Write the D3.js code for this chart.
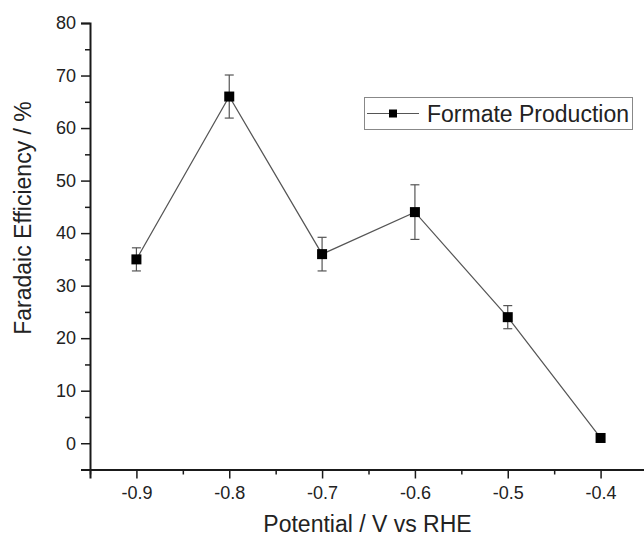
<!DOCTYPE html>
<html>
<head>
<meta charset="utf-8">
<script src="https://cdn.jsdelivr.net/npm/d3@7"></script>
<style>
  html, body { margin: 0; padding: 0; background: #fff; }
  svg { display: block; font-family: "Liberation Sans", Arial, sans-serif; }
</style>
</head>
<body>
<svg id="chart" width="644" height="537"></svg>
<script>
// ---- data ----
const potentials = [-0.9, -0.8, -0.7, -0.6, -0.5, -0.4];
const efficiency = [35, 66, 36, 44, 24, 1];
const errors = [2.2, 4.1, 3.2, 5.2, 2.2, 0];
const xMajorTicks = [-0.9, -0.8, -0.7, -0.6, -0.5, -0.4];
const xMinorTicks = [-0.95, -0.85, -0.75, -0.65, -0.55, -0.45, -0.35];
const yMajorTicks = [0, 10, 20, 30, 40, 50, 60, 70, 80];
const yMinorTicks = [-5, 5, 15, 25, 35, 45, 55, 65, 75];
const seriesName = "Formate Production";
const xTitle = "Potential / V vs RHE";
const yTitle = "Faradaic Efficiency / %";

const svg = d3.select("#chart");
const x = d3.scaleLinear().domain([-0.95, -0.35]).range([90, 647]);
const y = d3.scaleLinear().domain([-5, 80]).range([469.5, 23]);

const axisColor = "#1a1a1a";
const lineColor = "#555";

// X axis
const gx = svg.append("g").attr("transform", `translate(0,${y(-5)})`);
gx.call(d3.axisBottom(x).tickValues(xMajorTicks).tickSize(9).tickPadding(8)
  .tickFormat(d => d.toFixed(1)));
gx.append("g").call(d3.axisBottom(x).tickValues(xMinorTicks).tickSize(5).tickFormat(""))
  .call(g => g.select(".domain").remove());
gx.selectAll(".domain").attr("stroke", axisColor).attr("stroke-width", 2);
gx.selectAll(".tick line").attr("stroke", axisColor).attr("stroke-width", 1.5);
gx.selectAll(".tick text").attr("fill", "#222").style("font-size", "18px");

// Y axis
const gy = svg.append("g").attr("transform", `translate(${x(-0.95)},0)`);
gy.call(d3.axisLeft(y).tickValues(yMajorTicks).tickSize(9).tickPadding(5));
gy.append("g").call(d3.axisLeft(y).tickValues(yMinorTicks).tickSize(5).tickFormat(""))
  .call(g => g.select(".domain").remove());
gy.selectAll(".domain").attr("stroke", axisColor).attr("stroke-width", 2);
gy.selectAll(".tick line").attr("stroke", axisColor).attr("stroke-width", 1.5);
gy.selectAll(".tick text").attr("fill", "#222").style("font-size", "18px");

// Titles
svg.append("text").attr("x", (263 + 472) / 2).attr("y", 532)
  .attr("text-anchor", "middle").style("font-size", "23px").attr("fill", "#222")
  .text(xTitle);
svg.append("text").attr("transform", `translate(31,218) rotate(-90)`)
  .attr("text-anchor", "middle").style("font-size", "23px").attr("fill", "#222")
  .text(yTitle);

const pts = potentials.map((p, i) => ({ p, v: efficiency[i], e: errors[i] }));

// Line
svg.append("path").datum(pts)
  .attr("fill", "none").attr("stroke", lineColor).attr("stroke-width", 1.2)
  .attr("d", d3.line().x(d => x(d.p)).y(d => y(d.v)));

// Error bars
const eb = svg.append("g").attr("stroke", lineColor).attr("stroke-width", 1.2)
  .selectAll("g").data(pts.filter(d => d.e > 0)).join("g");
eb.append("line").attr("x1", d => x(d.p)).attr("x2", d => x(d.p))
  .attr("y1", d => y(d.v + d.e)).attr("y2", d => y(d.v - d.e));
eb.append("line").attr("x1", d => x(d.p) - 4.5).attr("x2", d => x(d.p) + 4.5)
  .attr("y1", d => y(d.v + d.e)).attr("y2", d => y(d.v + d.e));
eb.append("line").attr("x1", d => x(d.p) - 4.5).attr("x2", d => x(d.p) + 4.5)
  .attr("y1", d => y(d.v - d.e)).attr("y2", d => y(d.v - d.e));

// Markers
const ms = 10;
svg.append("g").selectAll("rect").data(pts).join("rect")
  .attr("x", d => x(d.p) - ms / 2).attr("y", d => y(d.v) - ms / 2)
  .attr("width", ms).attr("height", ms).attr("fill", "#000");

// Legend
const lg = svg.append("g");
lg.append("rect").attr("x", 364.5).attr("y", 97.5).attr("width", 268).attr("height", 32)
  .attr("fill", "#fff").attr("stroke", "#888").attr("stroke-width", 1);
lg.append("line").attr("x1", 367).attr("x2", 419).attr("y1", 113.5).attr("y2", 113.5)
  .attr("stroke", lineColor).attr("stroke-width", 1.2);
lg.append("rect").attr("x", 389).attr("y", 109.5).attr("width", 8).attr("height", 8).attr("fill", "#000");
lg.append("text").attr("x", 427).attr("y", 121.5).style("font-size", "23px").attr("fill", "#222")
  .text(seriesName);
</script>
</body>
</html>
